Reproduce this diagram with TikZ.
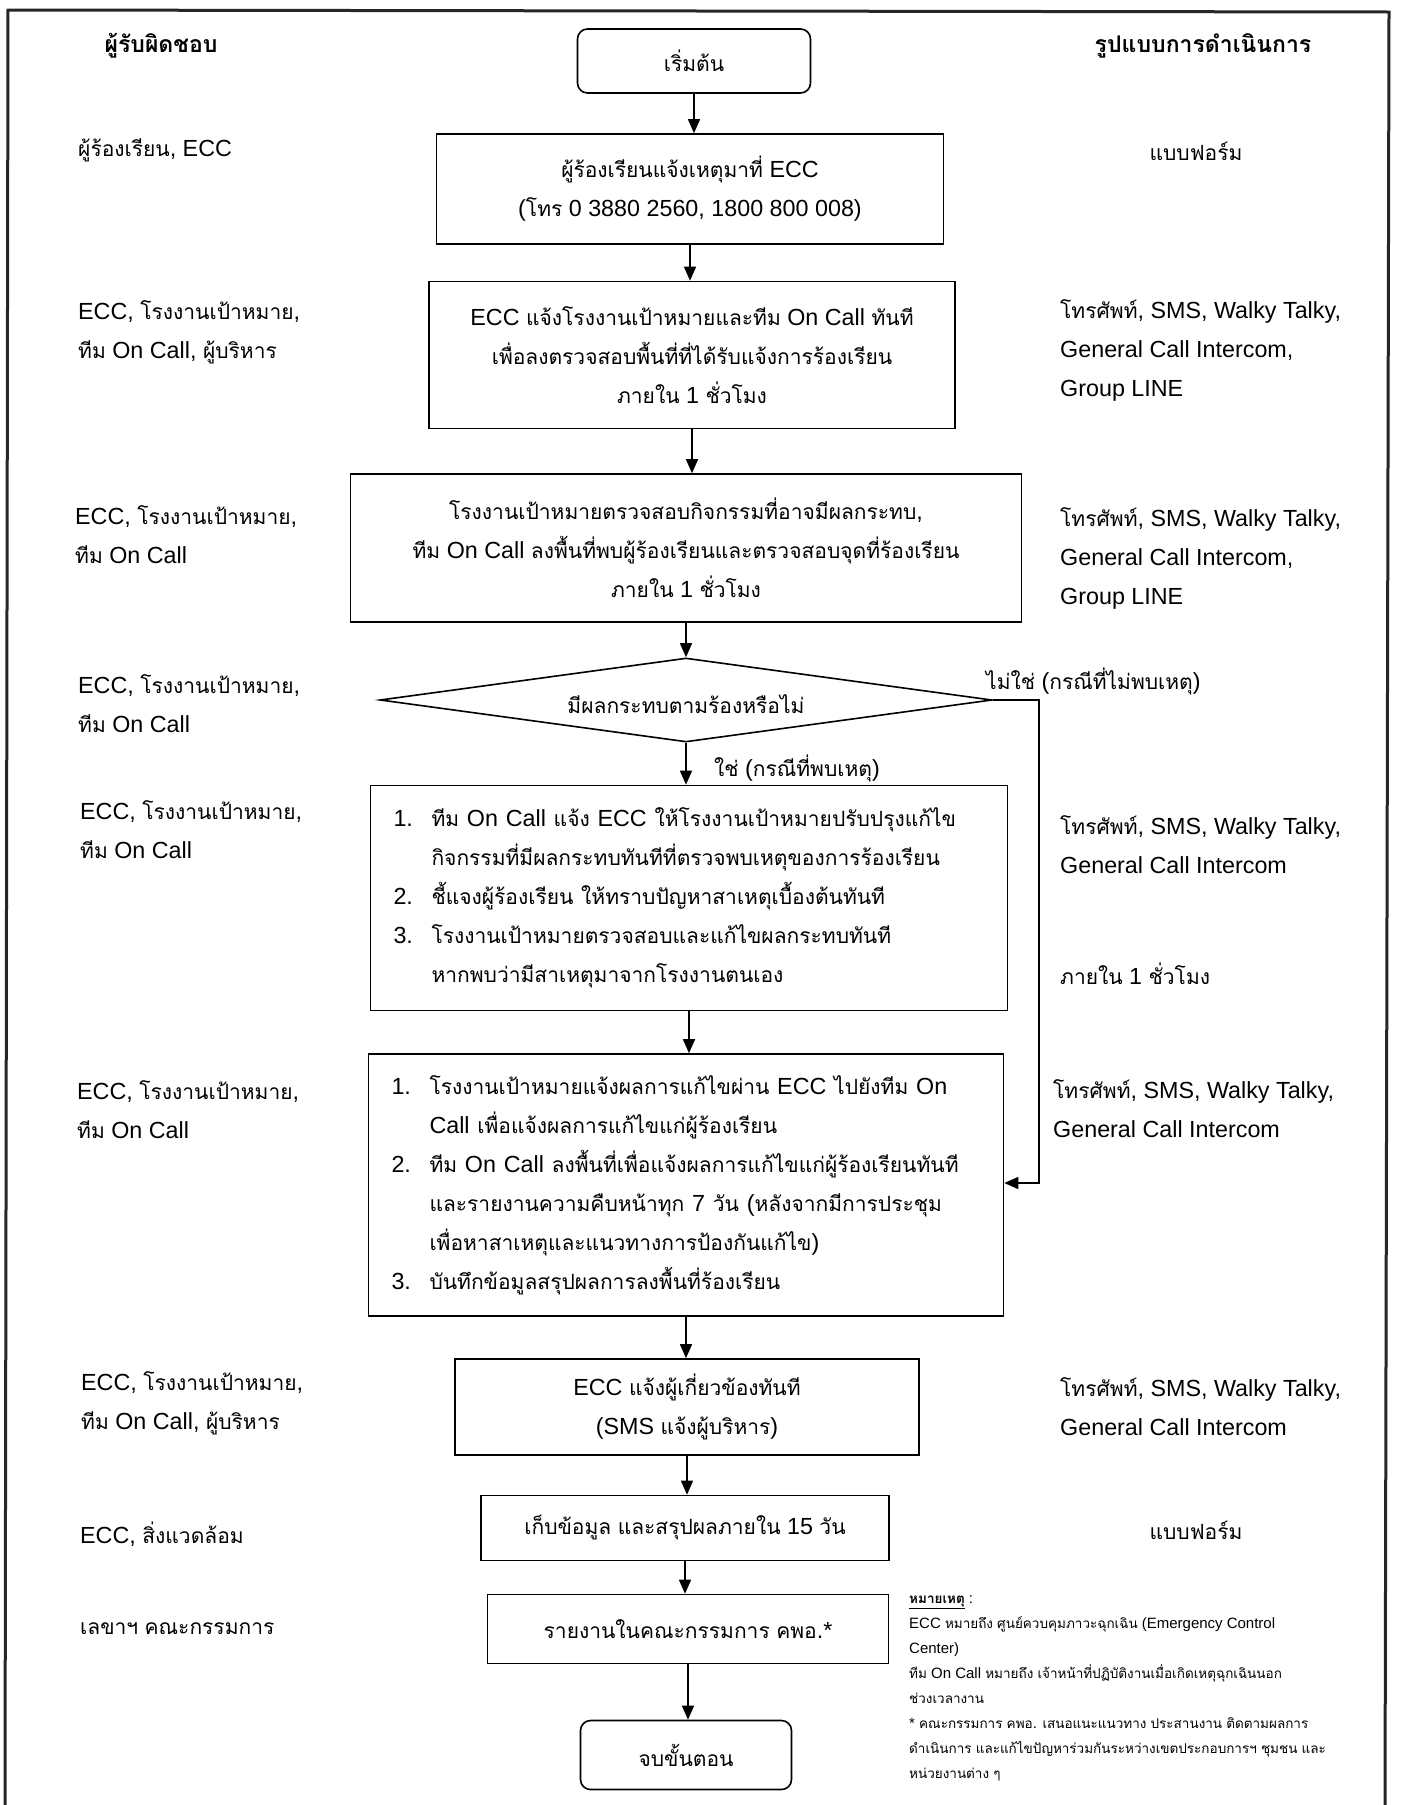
\documentclass[tikz,border=0pt]{standalone}
\usepackage{fontspec}
\setmainfont{Liberation Sans}[Scale=1.11]
\newfontfamily\thaifont[Script=Thai]{Loma}
\XeTeXinterchartokenstate=1
\newXeTeXintercharclass\thaicls
\newcount\tcc
\tcc="0E00
\loop\XeTeXcharclass\tcc=\thaicls\ifnum\tcc<"0E7F\advance\tcc by 1\repeat
\XeTeXinterchartoks 0 \thaicls = {\thaifont}
\XeTeXinterchartoks 4095 \thaicls = {\thaifont}
\XeTeXinterchartoks \thaicls 0 = {\rmfamily}
\XeTeXinterchartoks \thaicls 4095 = {\rmfamily}
\usetikzlibrary{shapes.geometric,arrows.meta}
\tikzset{
  every node/.style={font=\fontsize{21}{39}\selectfont, inner sep=0pt},
  box/.style={draw, line width=1.6pt, align=center, fill=white},
  rbox/.style={box, rounded corners=10pt},
  dia/.style={draw, line width=1.6pt, diamond, aspect=7.3},
  arr/.style={line width=1.4pt, -{Triangle[length=14pt,width=12pt]}},
  col/.style={align=left, anchor=west},
  hd/.style={font=\fontsize{23}{39}\selectfont\bfseries},
  note/.style={font=\fontsize{13.5}{25}\selectfont, align=left, anchor=north west}
}
\newcommand{\nb}[1]{\makebox[38pt][l]{#1}}
\newcommand{\ind}{\hspace*{38pt}}
\begin{document}
\begin{tikzpicture}[x=1pt,y=-1pt]
\useasboundingbox (0,0) rectangle (1402,1805);
% frame
\draw[line width=3pt, black!85] (5,1810) -- (8,10) -- (1389,12) -- (1385,1810);

% headers
\node[hd] (hl) at (161,46) {ผู้รับผิดชอบ};
\node[hd] (hr) at (1203,46) {รูปแบบการดำเนินการ};

% main flow
\node[rbox, minimum width=233pt, minimum height=64pt] (start) at (694,61) {เริ่มต้น};
\node[box, minimum width=507pt, minimum height=110pt] (b1) at (690,189) {ผู้ร้องเรียนแจ้งเหตุมาที่ ECC\\(โทร 0 3880 2560, 1800 800 008)};
\node[box, minimum width=526pt, minimum height=147pt] (b2) at (692,355) {ECC แจ้งโรงงานเป้าหมายและทีม On Call ทันที\\เพื่อลงตรวจสอบพื้นที่ที่ได้รับแจ้งการร้องเรียน\\ภายใน 1 ชั่วโมง};
\node[box, minimum width=671pt, minimum height=148pt] (b3) at (686,548) {โรงงานเป้าหมายตรวจสอบกิจกรรมที่อาจมีผลกระทบ,\\ทีม On Call ลงพื้นที่พบผู้ร้องเรียนและตรวจสอบจุดที่ร้องเรียน\\ภายใน 1 ชั่วโมง};
\node[dia, minimum width=612pt, minimum height=84pt] (d) at (686,700) {};
\node (dt) at (686,704) {มีผลกระทบตามร้องหรือไม่};
\node[box, align=left, minimum height=225pt, text width=591pt, inner xsep=23pt] (b4) at (689,898) {\nb{1.}ทีม On Call แจ้ง ECC ให้โรงงานเป้าหมายปรับปรุงแก้ไข\\\ind กิจกรรมที่มีผลกระทบทันทีที่ตรวจพบเหตุของการร้องเรียน\\\nb{2.}ชี้แจงผู้ร้องเรียน ให้ทราบปัญหาสาเหตุเบื้องต้นทันที\\\nb{3.}โรงงานเป้าหมายตรวจสอบและแก้ไขผลกระทบทันที\\\ind หากพบว่ามีสาเหตุมาจากโรงงานตนเอง};
\node[box, align=left, minimum height=262pt, text width=589pt, inner xsep=23pt] (b5) at (686,1185) {\nb{1.}โรงงานเป้าหมายแจ้งผลการแก้ไขผ่าน ECC ไปยังทีม On\\\ind Call เพื่อแจ้งผลการแก้ไขแก่ผู้ร้องเรียน\\\nb{2.}ทีม On Call ลงพื้นที่เพื่อแจ้งผลการแก้ไขแก่ผู้ร้องเรียนทันที\\\ind และรายงานความคืบหน้าทุก 7 วัน (หลังจากมีการประชุม\\\ind เพื่อหาสาเหตุและแนวทางการป้องกันแก้ไข)\\\nb{3.}บันทึกข้อมูลสรุปผลการลงพื้นที่ร้องเรียน};
\node[box, minimum width=464pt, minimum height=96pt] (b6) at (687,1407) {ECC แจ้งผู้เกี่ยวข้องทันที\\(SMS แจ้งผู้บริหาร)};
\node[box, minimum width=408pt, minimum height=65pt] (b7) at (685,1528) {เก็บข้อมูล และสรุปผลภายใน 15 วัน};
\node[box, minimum width=401pt, minimum height=69pt] (b8) at (688,1629) {รายงานในคณะกรรมการ คพอ.*};
\node[rbox, minimum width=211pt, minimum height=69pt] (end) at (686,1755) {จบขั้นตอน};

% arrows
\draw[arr] (start.south) -- (start.south |- b1.north);
\draw[arr] (b1.south) -- (b1.south |- b2.north);
\draw[arr] (b2.south) -- (b2.south |- b3.north);
\draw[arr] (b3.south) -- (b3.south |- d.north);
\draw[arr] (d.south) -- (d.south |- b4.north);
\draw[arr] (b4.south) -- (b4.south |- b5.north);
\draw[arr] (b5.south) -- (b5.south |- b6.north);
\draw[arr] (b6.south) -- (b6.south |- b7.north);
\draw[arr] (b7.south) -- (b7.south |- b8.north);
\draw[arr] (b8.south) -- (b8.south |- end.north);
\coordinate (nc) at (1039,1183);
\draw[arr] (d.east) -| (nc) -- (nc -| b5.east);

% branch labels
\node[anchor=west] (yes) at (714,768) {ใช่ (กรณีที่พบเหตุ)};
\node[anchor=west] (no) at (986,681) {ไม่ใช่ (กรณีที่ไม่พบเหตุ)};

% left column
\node[col] (l1) at (78,150) {ผู้ร้องเรียน, ECC};
\node[col] (l2) at (78,332) {ECC, โรงงานเป้าหมาย,\\ทีม On Call, ผู้บริหาร};
\node[col] (l3) at (75,535) {ECC, โรงงานเป้าหมาย,\\ทีม On Call};
\node[col] (l4) at (78,704) {ECC, โรงงานเป้าหมาย,\\ทีม On Call};
\node[col] (l5) at (80,830) {ECC, โรงงานเป้าหมาย,\\ทีม On Call};
\node[col] (l6) at (77,1110) {ECC, โรงงานเป้าหมาย,\\ทีม On Call};
\node[col] (l7) at (81,1403) {ECC, โรงงานเป้าหมาย,\\ทีม On Call, ผู้บริหาร};
\node[col] (l8) at (80,1534) {ECC, สิ่งแวดล้อม};
\node[col] (l9) at (80,1629) {เลขาฯ คณะกรรมการ};

% right column
\node (r1) at (1196,151) {แบบฟอร์ม};
\node[col] (r2) at (1060,350) {โทรศัพท์, SMS, Walky Talky,\\General Call Intercom,\\Group LINE};
\node[col] (r3) at (1060,558) {โทรศัพท์, SMS, Walky Talky,\\General Call Intercom,\\Group LINE};
\node[col] (r4) at (1060,845) {โทรศัพท์, SMS, Walky Talky,\\General Call Intercom};
\node[col] (r5) at (1060,974) {ภายใน 1 ชั่วโมง};
\node[col] (r6) at (1053,1109) {โทรศัพท์, SMS, Walky Talky,\\General Call Intercom};
\node[col] (r7) at (1060,1407) {โทรศัพท์, SMS, Walky Talky,\\General Call Intercom};
\node (r8) at (1196,1530) {แบบฟอร์ม};

% note
\node[note] (nt) at (909,1595) {\textbf{\underline{หมายเหตุ}} :\\ECC หมายถึง ศูนย์ควบคุมภาวะฉุกเฉิน (Emergency Control\\Center)\\ทีม On Call หมายถึง เจ้าหน้าที่ปฏิบัติงานเมื่อเกิดเหตุฉุกเฉินนอก\\ช่วงเวลางาน\\* คณะกรรมการ คพอ. เสนอแนะแนวทาง ประสานงาน ติดตามผลการ\\ดำเนินการ และแก้ไขปัญหาร่วมกันระหว่างเขตประกอบการฯ ชุมชน และ\\หน่วยงานต่าง ๆ};
\end{tikzpicture}
\end{document}
